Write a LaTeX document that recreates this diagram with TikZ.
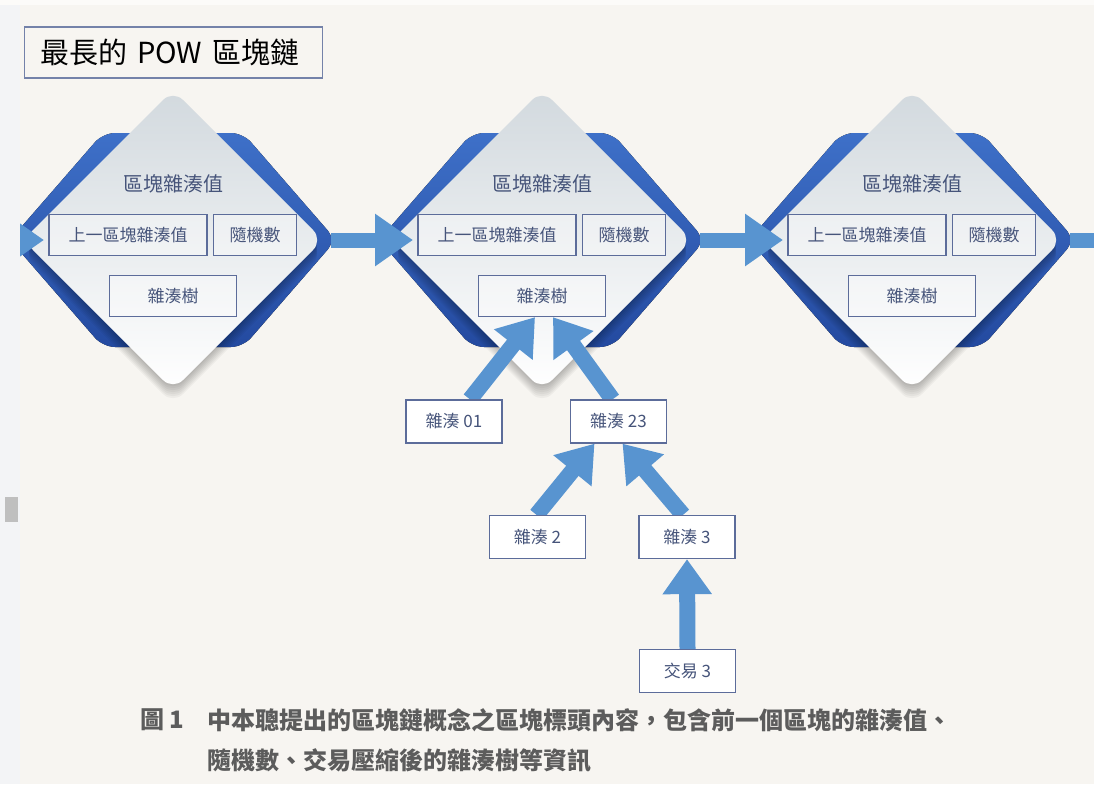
\documentclass[tikz,border=0pt]{standalone}
\usepackage{fontspec}
\setmainfont{Liberation Sans}
\newfontfamily\cjk{Noto Sans CJK TC}
\usetikzlibrary{arrows.meta}

\definecolor{bgpaper}{RGB}{247,245,241}
\definecolor{stripgrey}{RGB}{243,244,246}
\definecolor{boxline}{RGB}{92,108,154}
\definecolor{boxtext}{RGB}{70,84,122}
\definecolor{arrowblue}{RGB}{88,148,208}
\definecolor{frameblue}{RGB}{62,112,200}
\definecolor{framedark}{RGB}{36,74,160}
\definecolor{capgrey}{RGB}{92,92,92}
\definecolor{diamtop}{RGB}{210,217,222}

\pgfdeclarelayer{front}
\pgfsetlayers{main,front}

\tikzset{every picture/.style={line width=0.75pt}}
\tikzset{
	fieldbox/.style={draw=boxline, line width=1.3pt, fill=white, fill opacity=0.35, text opacity=1, minimum height=41pt, inner sep=0pt, text=boxtext, font=\cjk\fontsize{17}{20}\selectfont},
	hashbox/.style={draw=boxline, line width=1.3pt, fill=white, minimum width=96pt, minimum height=43pt, inner sep=0pt, text=boxtext, font=\cjk\fontsize{17}{20}\selectfont},
	blocktitle/.style={inner sep=0pt, text=boxtext, font=\cjk\fontsize{20}{24}\selectfont},
	chainarrow/.style={draw=arrowblue, line width=15pt, -{Triangle[width=50pt,length=38pt]}},
	treearrow/.style={draw=arrowblue, line width=16pt, -{Triangle[width=47pt,length=35pt]}},
	capline/.style={anchor=west, inner sep=0pt, text=capgrey, font=\cjk\bfseries\fontsize{24}{28}\selectfont}}

\begin{document}
\begin{tikzpicture}[x=1pt,y=1pt,yscale=-1,xscale=1]
	\useasboundingbox (0,0) rectangle (1094,784);
	%Shape: Rectangle [id:background]
	\fill[bgpaper] (0,0) rectangle (1094,784);

	%Block diamonds
	\foreach \c [count=\i] in {173,542,912} {
		%Shape: blue frame
		\fill[rounded corners=12pt, top color=frameblue, bottom color=framedark] (\c,133) -- (\c+70,133) -- (\c+163,240) -- (\c+70,347) -- (\c-70,347) -- (\c-163,240) -- (\c-70,133) -- cycle;
		%Shape: soft shadow
		\foreach \s in {2,4,...,14} {
			\fill[black, opacity=0.04, rounded corners=14pt] (\c+75,165+\s) -- (\c+150,240+\s) -- (\c,390+\s) -- (\c-150,240+\s) -- (\c,90+\s) -- cycle;
		}
		%Shape: white diamond
		\shade[rounded corners=14pt, top color=diamtop, bottom color=white] (\c+75,165) -- (\c+150,240) -- (\c,390) -- (\c-150,240) -- (\c,90) -- cycle;
		% Text Node
		\node[blocktitle] (head\i) at (\c,184) {區塊雜湊值};
		\node[fieldbox, minimum width=158pt] (prev\i) at (\c-45,235) {上一區塊雜湊值};
		\node[fieldbox, minimum width=83pt] (nonce\i) at (\c+82,235) {隨機數};
		\node[fieldbox, minimum width=127pt] (tree\i) at (\c,296) {雜湊樹};
		\coordinate (out\i) at (\c+158,240);
		\coordinate (in\i) at (\c-129,240);
	}

	%Merkle tree boxes
	\begin{pgfonlayer}{front}
		\node[hashbox] (h01) at (454,421.5) {雜湊 01};
		\node[hashbox] (h23) at (618.5,421.5) {雜湊 23};
		\node[hashbox] (h2) at (537.5,537) {雜湊 2};
		\node[hashbox] (h3) at (687,537) {雜湊 3};
		\node[hashbox] (tx3) at (687.5,671) {交易 3};
	\end{pgfonlayer}

	%Right Arrow chain
	\coordinate (leftend) at (0,240);
	\coordinate (rightend) at (1094,240);
	\draw[chainarrow] (leftend) -- (in1);
	\draw[chainarrow] (out1) -- (in2);
	\draw[chainarrow] (out2) -- (in3);
	\draw[draw=arrowblue, line width=15pt] (out3) -- (rightend);

	%Up Arrows
	\draw[treearrow] ([xshift=16pt]h01.north) -- ([xshift=-7pt]tree2.south);
	\draw[treearrow] ([xshift=-6pt]h23.north) -- ([xshift=11pt]tree2.south);
	\draw[treearrow] ([xshift=-1pt]h2.north) -- ([xshift=-24pt]h23.south);
	\draw[treearrow] ([xshift=-4pt]h3.north) -- ([xshift=4pt]h23.south);
	\draw[treearrow] (tx3.north) -- (h3.south);

	%Page edges
	\begin{pgfonlayer}{front}
		\fill[stripgrey] (0,0) rectangle (20,784);
		\fill[white!60!bgpaper] (0,0) rectangle (1094,5);
		\fill[black!25] (5,497) rectangle (18,522);
	\end{pgfonlayer}

	% Text Node
	\node[draw=boxline!85, line width=1.2pt, anchor=west, minimum height=51pt, text width=266pt, inner xsep=16pt, inner ysep=0pt, align=left, font=\cjk\fontsize{29}{33}\selectfont] (chaintitle) at (24,52.5) {最長的 POW 區塊鏈};
	% Text Node
	\node[capline] (figno) at (140,720) {圖 1};
	\node[capline] (cap1) at (207,720) {中本聰提出的區塊鏈概念之區塊標頭內容，包含前一個區塊的雜湊值、};
	\node[capline] (cap2) at (207,760) {隨機數、交易壓縮後的雜湊樹等資訊};
\end{tikzpicture}
\end{document}
